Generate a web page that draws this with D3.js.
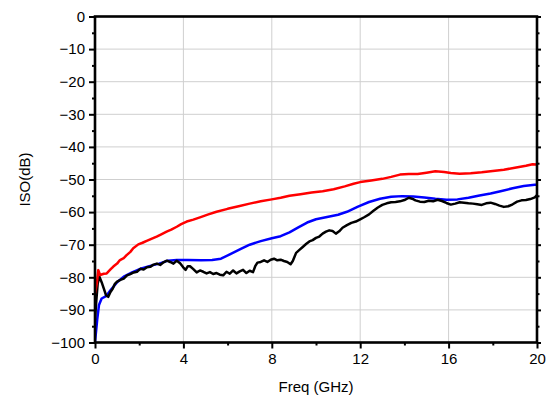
<!DOCTYPE html>
<html>
<head>
<meta charset="utf-8">
<script src="https://cdn.jsdelivr.net/npm/d3@7"></script>
<style>
  body { margin: 0; background: #fff; }
  text { font-family: Arial, "Liberation Sans", sans-serif; fill: #000; }
</style>
</head>
<body>
<svg></svg>
<script>
// red trace
let redFreq = [0, 0.08, 0.15, 0.23, 0.4, 0.53, 0.7, 0.83, 1.0, 1.13, 1.3, 1.43, 1.6, 1.73, 1.96, 2.15, 2.34, 2.55, 2.79, 3.0, 3.24, 3.45, 3.7, 3.9, 4.15, 4.45, 4.75, 5.13, 5.5, 6.0, 6.5, 7.0, 7.5, 8.0, 8.4, 8.8, 9.3, 9.8, 10.3, 10.8, 11.3, 11.7, 12.0, 12.5, 13.0, 13.4, 13.8, 14.2, 14.6, 15.0, 15.4, 15.8, 16.1, 16.5, 17.0, 17.5, 18.0, 18.5, 19.0, 19.5, 19.8, 20.0];
let redIso = [-85, -82, -77.8, -79.3, -78.9, -78.8, -77.6, -76.7, -75.8, -74.7, -74.1, -73.2, -72.2, -71.1, -69.9, -69.4, -68.8, -68.2, -67.5, -66.8, -66.0, -65.4, -64.5, -63.7, -62.9, -62.3, -61.6, -60.7, -59.9, -59.0, -58.2, -57.4, -56.7, -56.1, -55.6, -55.0, -54.5, -54.0, -53.6, -53.0, -52.1, -51.3, -50.8, -50.3, -49.8, -49.2, -48.5, -48.3, -48.3, -47.9, -47.5, -47.7, -48.0, -48.2, -48.1, -47.8, -47.4, -47.0, -46.4, -45.8, -45.3, -45.4];

// blue trace
let blueFreq = [0, 0.1, 0.18, 0.3, 0.5, 0.7, 1.0, 1.3, 1.7, 2.1, 2.5, 2.9, 3.3, 3.7, 4.2, 4.8, 5.3, 5.7, 6.1, 6.6, 7.0, 7.5, 8.0, 8.4, 8.8, 9.2, 9.6, 10.0, 10.5, 11.0, 11.4, 11.9, 12.4, 12.9, 13.4, 13.9, 14.4, 14.9, 15.4, 15.9, 16.4, 16.9, 17.4, 17.9, 18.4, 18.9, 19.4, 19.9, 20.0];
let blueIso = [-100, -93, -88.5, -86.5, -85.8, -84.0, -81.5, -79.8, -78.4, -77.3, -76.5, -75.8, -74.9, -74.7, -74.7, -74.8, -74.7, -74.3, -73.0, -71.3, -70.0, -68.9, -68.0, -67.4, -66.2, -64.7, -63.2, -62.2, -61.5, -60.8, -59.9, -58.3, -56.9, -55.9, -55.3, -55.1, -55.2, -55.5, -55.9, -56.2, -56.1, -55.6, -54.9, -54.3, -53.5, -52.7, -52.0, -51.6, -51.6];

// black trace
let blackFreq = [0, 0.05, 0.12, 0.2, 0.3, 0.4, 0.5, 0.6, 0.7, 0.8, 0.9, 1.0, 1.15, 1.3, 1.45, 1.6, 1.75, 1.9, 2.05, 2.2, 2.35, 2.5, 2.65, 2.8, 2.95, 3.1, 3.25, 3.4, 3.55, 3.7, 3.85, 4.0, 4.1, 4.2, 4.3, 4.45, 4.6, 4.75, 4.9, 5.05, 5.2, 5.35, 5.5, 5.65, 5.8, 5.95, 6.1, 6.25, 6.4, 6.55, 6.7, 6.85, 7.0, 7.15, 7.25, 7.35, 7.5, 7.65, 7.8, 7.95, 8.1, 8.25, 8.4, 8.55, 8.7, 8.85, 8.95, 9.1, 9.25, 9.4, 9.55, 9.7, 9.85, 10.0, 10.15, 10.3, 10.45, 10.6, 10.75, 10.9, 11.05, 11.2, 11.4, 11.6, 11.8, 12.0, 12.2, 12.4, 12.6, 12.8, 13.0, 13.2, 13.4, 13.6, 13.8, 14.0, 14.2, 14.35, 14.5, 14.7, 14.9, 15.1, 15.3, 15.5, 15.7, 15.9, 16.1, 16.3, 16.5, 16.7, 16.9, 17.1, 17.3, 17.5, 17.7, 17.9, 18.1, 18.3, 18.5, 18.7, 18.9, 19.1, 19.3, 19.5, 19.7, 19.9, 20.0];
let blackIso = [-93, -88, -82, -79.8, -81.5, -83.5, -85.5, -86.0, -84.5, -83.5, -82.0, -81.3, -80.8, -80.4, -79.4, -79.0, -78.5, -78.3, -77.4, -77.6, -76.9, -76.8, -76.1, -75.8, -76.2, -75.4, -74.9, -75.3, -75.8, -74.9, -75.7, -77.0, -77.7, -76.6, -76.6, -77.5, -78.5, -77.9, -78.3, -78.8, -78.4, -79.0, -78.7, -79.2, -79.4, -78.3, -78.9, -77.9, -78.8, -78.2, -77.7, -78.7, -78.0, -78.4, -76.6, -75.5, -75.3, -74.8, -75.3, -74.6, -74.3, -74.8, -74.6, -75.0, -75.3, -76.0, -75.0, -72.5, -71.6, -70.7, -69.8, -69.0, -68.6, -67.9, -67.5, -66.6, -66.0, -65.6, -65.8, -66.6, -65.9, -64.8, -64.0, -63.3, -62.9, -62.2, -61.5, -60.7, -59.6, -58.6, -57.8, -57.3, -57.0, -56.9, -56.7, -56.3, -55.6, -55.9, -56.4, -56.8, -56.9, -56.5, -56.7, -56.2, -56.6, -57.2, -57.7, -57.4, -57.0, -57.1, -57.3, -57.4, -57.6, -57.8, -57.3, -57.1, -57.5, -58.0, -58.4, -58.2, -57.6, -56.8, -56.4, -56.3, -56.0, -55.5, -54.8];

let xTicks = [0, 4, 8, 12, 16, 20];
let yTicks = [0, -10, -20, -30, -40, -50, -60, -70, -80, -90, -100];

let width = 551;
let height = 399;
let margin = { left: 95, right: 14, top: 16.5, bottom: 56.5 };
let w = width - margin.left - margin.right;
let h = height - margin.top - margin.bottom;

let svg = d3.select('svg')
  .attr('width', width)
  .attr('height', height);

let g = svg.append('g')
  .attr('transform', `translate(${margin.left},${margin.top})`);

let x = d3.scaleLinear().domain([0, 20]).range([0, w]);
let y = d3.scaleLinear().domain([-100, 0]).range([h, 0]);

// grid
g.append('g')
  .selectAll('line')
  .data(xTicks.slice(1, -1))
  .enter().append('line')
    .attr('x1', d => x(d)).attr('x2', d => x(d))
    .attr('y1', 0).attr('y2', h)
    .attr('stroke', '#cfcfcf').attr('stroke-width', 1);
g.append('g')
  .selectAll('line')
  .data(yTicks.slice(1, -1))
  .enter().append('line')
    .attr('x1', 0).attr('x2', w)
    .attr('y1', d => y(d)).attr('y2', d => y(d))
    .attr('stroke', '#cfcfcf').attr('stroke-width', 1);

// traces
g.append('clipPath').attr('id', 'clip')
  .append('rect').attr('width', w).attr('height', h);

let line = d3.line()
  .x(d => x(d[0]))
  .y(d => y(d[1]));

let traces = [
  { f: blueFreq, v: blueIso, color: '#0000ff' },
  { f: blackFreq, v: blackIso, color: '#000000' },
  { f: redFreq, v: redIso, color: '#ff0000' }
];

traces.forEach(t => {
  g.append('path')
    .datum(t.f.map((f, i) => [f, t.v[i]]))
    .attr('clip-path', 'url(#clip)')
    .attr('fill', 'none')
    .attr('stroke', t.color)
    .attr('stroke-width', 2.5)
    .attr('stroke-linejoin', 'round')
    .attr('d', line);
});

// axes
let minorX = d3.range(2, 20, 4);
let minorY = d3.range(-95, 0, 10);

g.append('g')
  .attr('transform', `translate(0,${h})`)
  .call(d3.axisBottom(x).tickValues(xTicks).tickSize(6).tickPadding(5).tickFormat(d3.format('d')));
g.append('g')
  .attr('transform', `translate(0,${h})`)
  .call(d3.axisBottom(x).tickValues(minorX).tickSize(3).tickFormat(''));

g.append('g')
  .call(d3.axisLeft(y).tickValues(yTicks).tickSize(6).tickPadding(4).tickFormat(d3.format('d')));
g.append('g')
  .call(d3.axisLeft(y).tickValues(minorY).tickSize(3).tickFormat(''));

g.append('g')
  .attr('transform', `translate(${w},0)`)
  .call(d3.axisRight(y).tickValues(yTicks).tickSize(4).tickFormat(''));
g.append('g')
  .attr('transform', `translate(${w},0)`)
  .call(d3.axisRight(y).tickValues(minorY).tickSize(2.5).tickFormat(''));

g.selectAll('.domain').remove();
g.selectAll('.tick line').attr('stroke', '#000').attr('stroke-width', 2);
g.selectAll('.tick text')
  .style('font-size', '15px')
  .style('font-family', 'Arial, "Liberation Sans", sans-serif');

// frame
g.append('rect')
  .attr('width', w).attr('height', h)
  .attr('fill', 'none')
  .attr('stroke', '#000')
  .attr('stroke-width', 2.6);

// labels
svg.append('text')
  .attr('x', margin.left + w / 2)
  .attr('y', 392)
  .attr('text-anchor', 'middle')
  .style('font-size', '15px')
  .text('Freq (GHz)');

svg.append('text')
  .attr('transform', `translate(30,${margin.top + h / 2}) rotate(-90)`)
  .attr('text-anchor', 'middle')
  .style('font-size', '15px')
  .text('ISO(dB)');
</script>
</body>
</html>
